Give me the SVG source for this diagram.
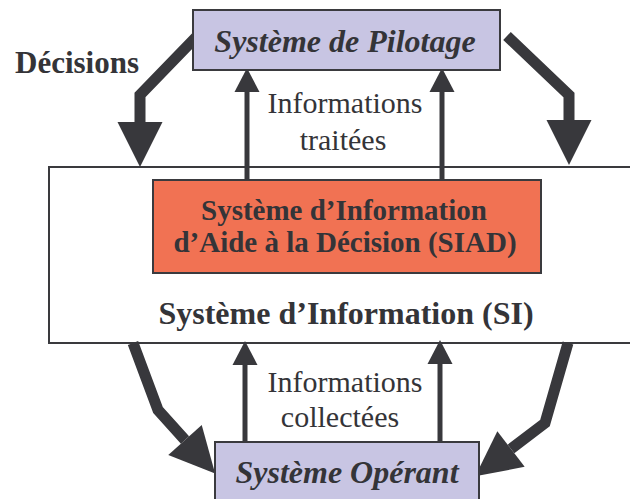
<svg xmlns="http://www.w3.org/2000/svg" width="630" height="499" viewBox="0 0 630 499">
<style>
text{font-family:"Liberation Serif","Times New Roman",serif;fill:#343438;text-anchor:middle}
.b{font-weight:bold}
.bi{font-weight:bold;font-style:italic}
.box{stroke:#3a3a3e;stroke-width:2}
.thick{fill:none;stroke:#38383c;stroke-width:11;stroke-linejoin:miter}
.thin{fill:none;stroke:#38383c;stroke-width:5}
</style>
<defs>
<marker id="big" markerUnits="userSpaceOnUse" markerWidth="45" markerHeight="45" refX="0" refY="22.5" orient="auto" overflow="visible">
<path d="M0,0 L45,22.5 L0,45 Z" fill="#38383c"/>
</marker>
<marker id="small" markerUnits="userSpaceOnUse" markerWidth="24" markerHeight="25" refX="0" refY="12.5" orient="auto" overflow="visible">
<path d="M0,0 L24,12.5 L0,25 Z" fill="#38383c"/>
</marker>
</defs>
<rect width="630" height="499" fill="#ffffff"/>
<g id="si">
<rect class="box" x="49" y="167" width="600" height="176" fill="#ffffff"/>
<text class="b" x="346" y="324" font-size="32">Système d’Information (SI)</text>
</g>
<g id="siad">
<rect class="box" x="153" y="180" width="388" height="93" fill="#f17253"/>
<text class="b" x="344" y="220" font-size="29">Système d’Information</text>
<text class="b" x="345" y="252" font-size="29">d’Aide à la Décision (SIAD)</text>
</g>
<g id="connectors">
<polyline class="thick" points="200,33 140,95 140,122" marker-end="url(#big)"/>
<polyline class="thick" points="507,36 569,95 569,120" marker-end="url(#big)"/>
<polyline class="thick" points="133,343 158,410 185,440" marker-end="url(#big)"/>
<polyline class="thick" points="568,343 545,423 511,449" marker-end="url(#big)"/>
<line class="thin" x1="247" y1="180" x2="247" y2="92" marker-end="url(#small)"/>
<line class="thin" x1="442" y1="180" x2="442" y2="92" marker-end="url(#small)"/>
<line class="thin" x1="245" y1="442" x2="245" y2="365" marker-end="url(#small)"/>
<line class="thin" x1="440" y1="442" x2="440" y2="364" marker-end="url(#small)"/>
<text x="345" y="113" font-size="30">Informations</text>
<text x="343" y="150" font-size="30">traitées</text>
<text x="345" y="392" font-size="30">Informations</text>
<text x="340" y="427" font-size="30">collectées</text>
<text class="b" x="15" y="73" font-size="31" style="text-anchor:start">Décisions</text>
</g>
<g id="pilotage">
<rect class="box" x="193" y="10" width="307" height="60" fill="#c8c5e3"/>
<text class="bi" x="345" y="52" font-size="32">Système de Pilotage</text>
</g>
<g id="operant">
<rect class="box" x="215" y="442" width="264" height="70" fill="#c8c5e3"/>
<text class="bi" x="347" y="483" font-size="32">Système Opérant</text>
</g>
</svg>
